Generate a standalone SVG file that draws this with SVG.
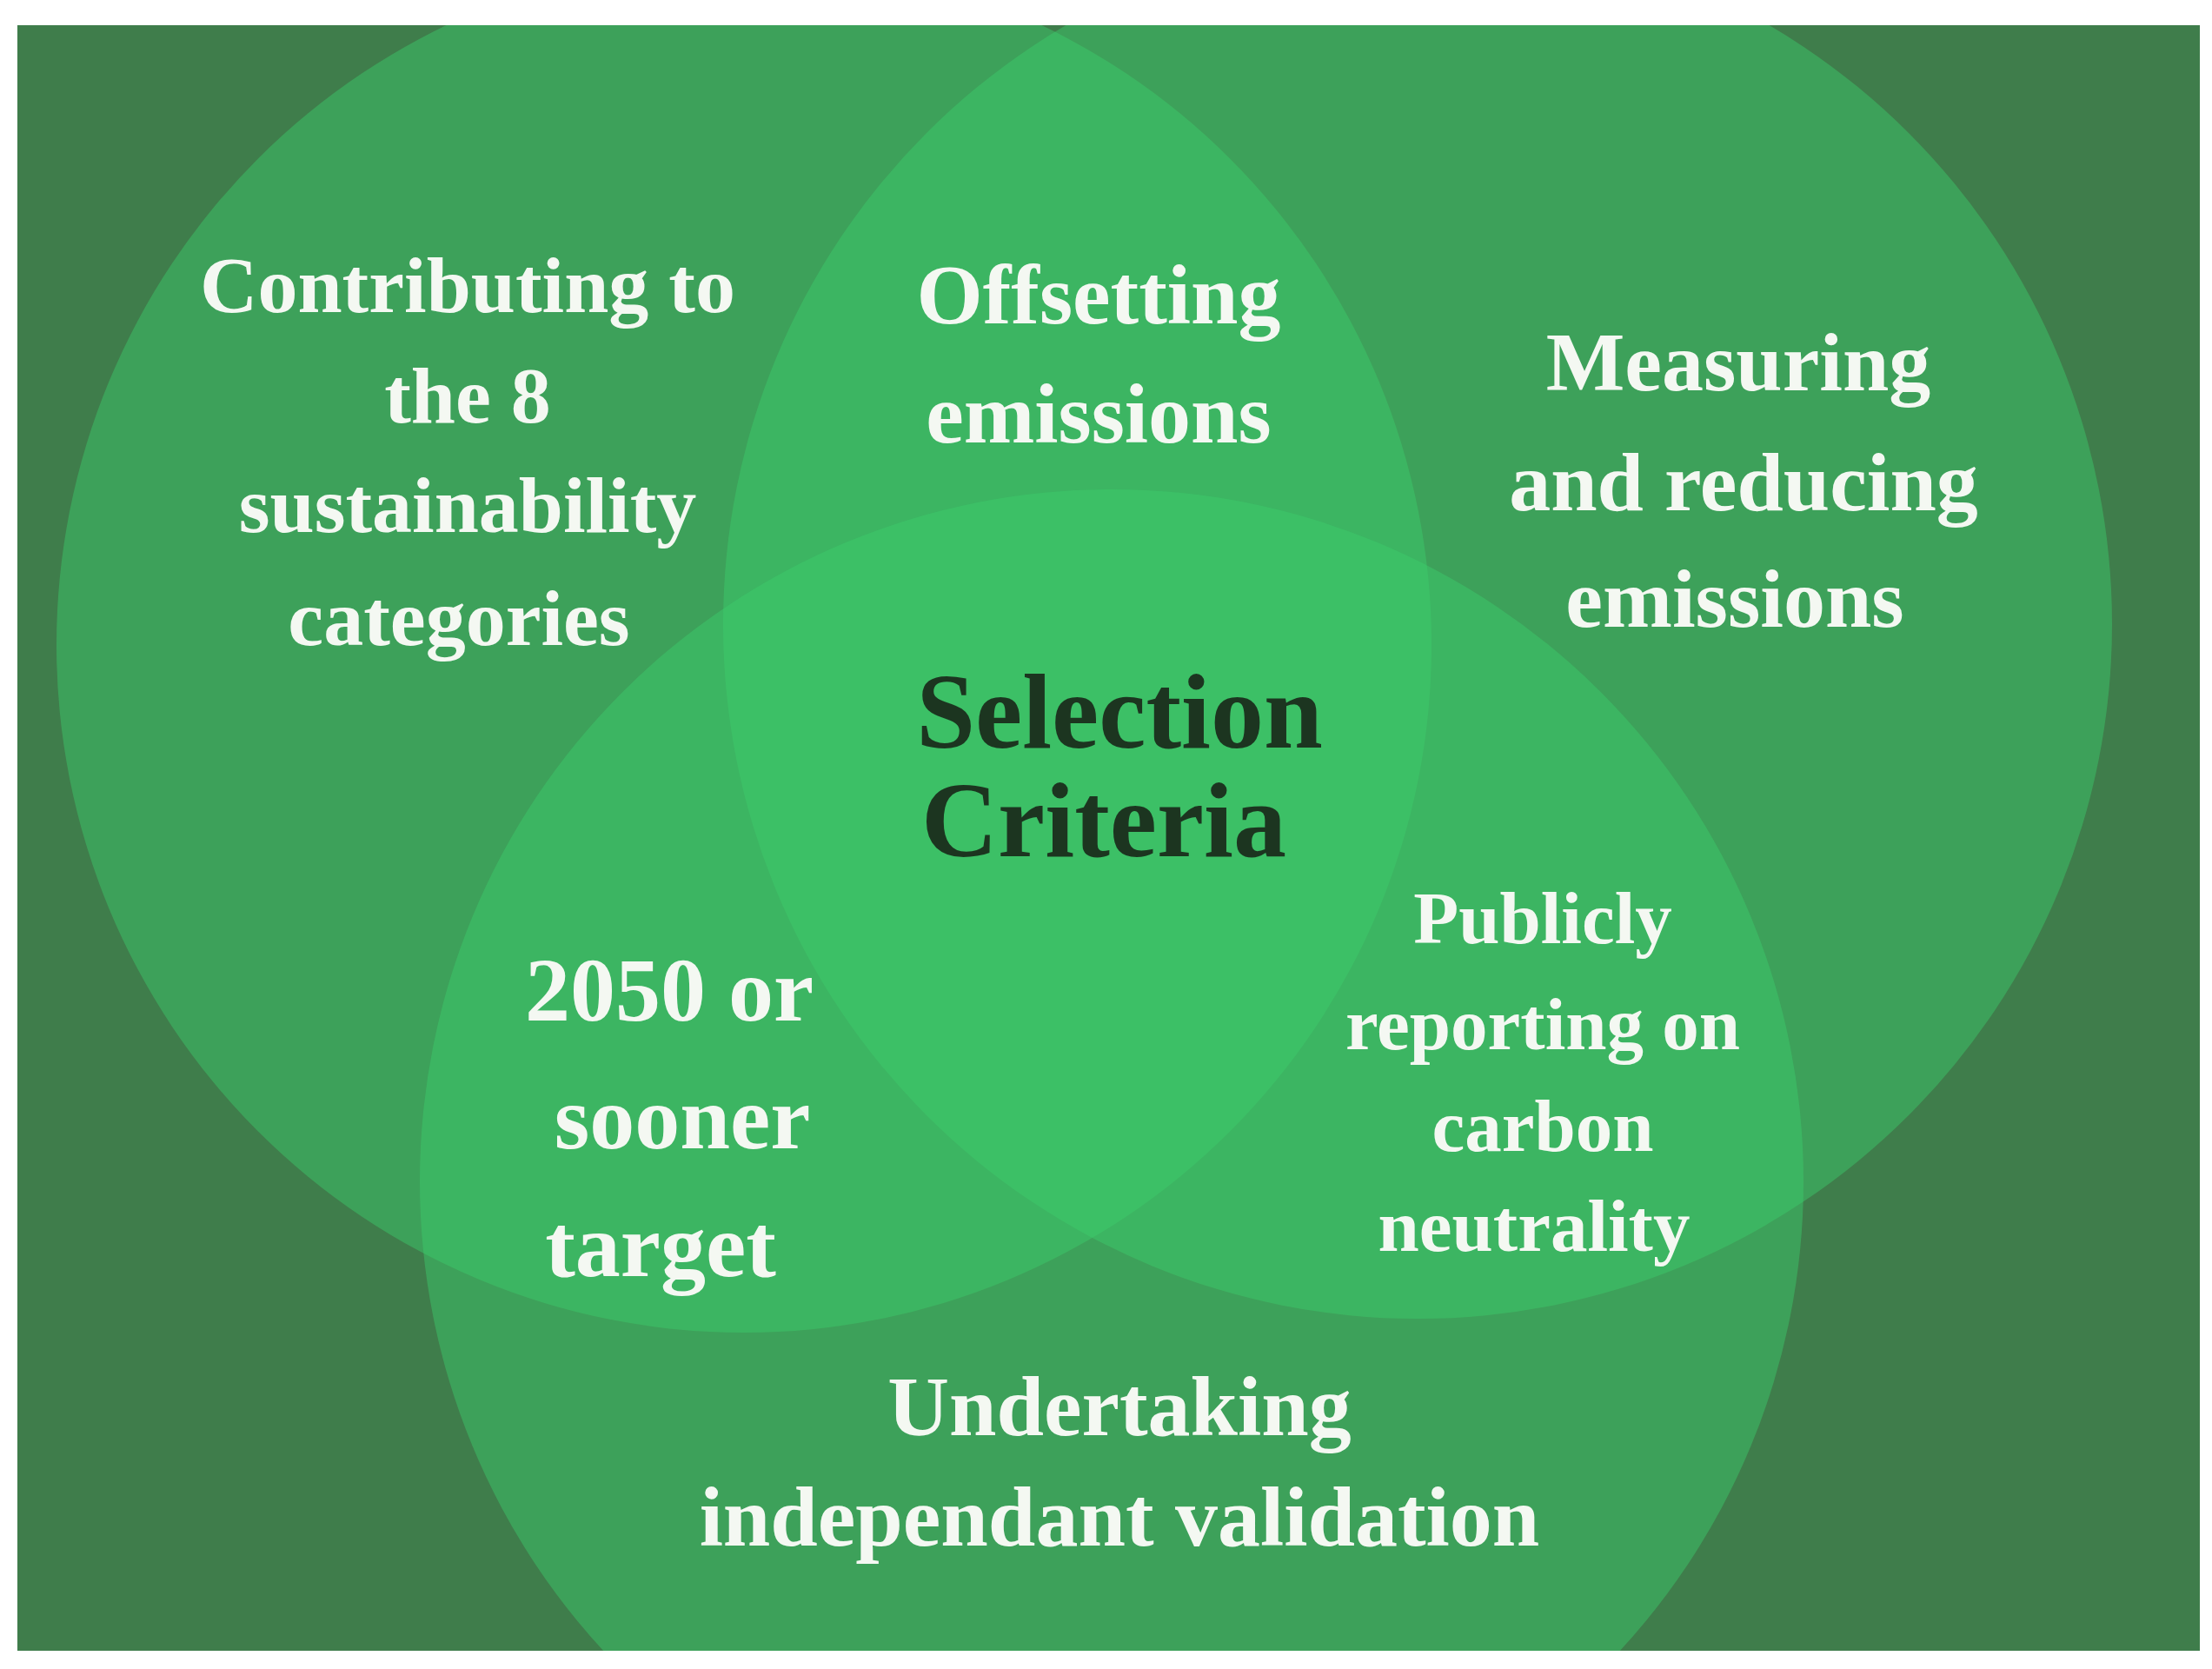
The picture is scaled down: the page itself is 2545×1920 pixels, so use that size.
<svg xmlns="http://www.w3.org/2000/svg" width="2545" height="1920" viewBox="0 0 2545 1920">
<style>
.c{fill:#3ccf6c;fill-opacity:0.45;stroke:none}
.t{font-family:"Liberation Serif",serif;font-weight:bold;fill:#f4f8f2;text-anchor:middle}
.d{fill:#1c3520}
</style>
<defs><clipPath id="cl"><rect x="20" y="29" width="2511" height="1870"/></clipPath></defs>
<rect width="2545" height="1920" fill="#ffffff"/>
<rect x="20" y="29" width="2511" height="1870" fill="#3f7d4b"/>
<g clip-path="url(#cl)">
<g id="left"><circle class="c" cx="856" cy="742" r="791"/></g>
<g id="right"><circle class="c" cx="1631" cy="718" r="799"/></g>
<g id="bottom"><circle class="c" cx="1279" cy="1359" r="796"/></g>
</g>
<g id="connectors"/>
<g id="labels">
<text class="t" font-size="92" x="538" y="359">Contributing to</text>
<text class="t" font-size="92" x="538" y="486">the 8</text>
<text class="t" font-size="92" x="538" y="612">sustainability</text>
<text class="t" font-size="92" x="528" y="742">categories</text>
<text class="t" font-size="98" x="1264" y="372">Offsetting</text>
<text class="t" font-size="98" x="1264" y="509">emissions</text>
<text class="t" font-size="96" x="2000" y="449">Measuring</text>
<text class="t" font-size="96" x="2006" y="587">and reducing</text>
<text class="t" font-size="96" x="1996" y="721">emissions</text>
<text class="t d" font-size="122" x="1288" y="860">Selection</text>
<text class="t d" font-size="122" x="1270" y="985">Criteria</text>
<text class="t" font-size="104" x="770" y="1174">2050 or</text>
<text class="t" font-size="104" x="785" y="1321">sooner</text>
<text class="t" font-size="104" x="760" y="1468">target</text>
<text class="t" font-size="85" x="1775" y="1085">Publicly</text>
<text class="t" font-size="85" x="1775" y="1207">reporting on</text>
<text class="t" font-size="85" x="1775" y="1324">carbon</text>
<text class="t" font-size="85" x="1765" y="1439">neutrality</text>
<text class="t" font-size="98" x="1288" y="1651">Undertaking</text>
<text class="t" font-size="98" x="1288" y="1778">independant validation</text>
</g>
</svg>
